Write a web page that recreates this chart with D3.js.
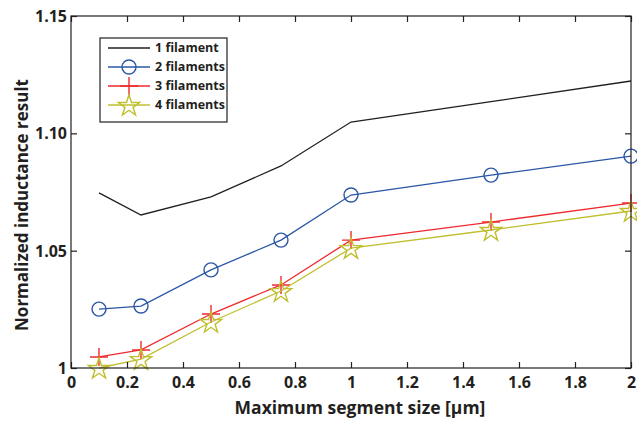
<!DOCTYPE html>
<html lang="en">
<head>
<meta charset="utf-8">
<title>Normalized inductance</title>
<script src="https://d3js.org/d3.v7.min.js"></script>
<style>
  body { margin: 0; background: #fff; }
  text { font-family: "Open Sans", sans-serif; font-weight: 700; fill: #231f20; }
</style>
</head>
<body>
<script>
// data
var segSize = [0.1, 0.25, 0.5, 0.75, 1, 1.5, 2];
var fil1 = [1.0746, 1.0652, 1.0729, 1.0861, 1.1048, 1.1135, 1.1223];
var fil2 = [1.0251, 1.0264, 1.0418, 1.0545, 1.0737, 1.0822, 1.0903];
var fil3 = [1.0047, 1.0077, 1.0230, 1.0354, 1.0545, 1.0622, 1.0703];
var fil4 = [1.0000, 1.0038, 1.0196, 1.0328, 1.0511, 1.0588, 1.0669];
var seriesNames = ["1 filament", "2 filaments", "3 filaments", "4 filaments"];
var xTicks = [0, 0.2, 0.4, 0.6, 0.8, 1, 1.2, 1.4, 1.6, 1.8, 2];
var yTicks = [1, 1.05, 1.10, 1.15];
var yTickLabels = ["1", "1.05", "1.10", "1.15"];

var w = 637, h = 423;
var mLeft = 71, mRight = 631, mTop = 16, mBottom = 368;

var series = [
  {name: seriesNames[0], vals: fil1, color: "#231f20", marker: "none"},
  {name: seriesNames[1], vals: fil2, color: "#2b57a6", marker: "circle"},
  {name: seriesNames[2], vals: fil3, color: "#ee2a2f", marker: "plus"},
  {name: seriesNames[3], vals: fil4, color: "#bfbf2e", marker: "star"}
];

var x = d3.scaleLinear().domain([0, 2]).range([mLeft, mRight]);
var y = d3.scaleLinear().domain([1, 1.15]).range([mBottom, mTop]);

var svg = d3.select("body").append("svg").attr("width", w).attr("height", h);

// data lines
var line = d3.line().x(function(d) { return x(d[0]); }).y(function(d) { return y(d[1]); });

function drawMarker(g, type, cx, cy, color) {
  if (type === "circle") {
    g.append("circle").attr("cx", cx).attr("cy", cy).attr("r", 7)
      .attr("fill", "none").attr("stroke", color).attr("stroke-width", 1.4);
  } else if (type === "plus") {
    g.append("path").attr("d", "M" + (cx - 9) + "," + cy + "H" + (cx + 9) + "M" + cx + "," + (cy - 9) + "V" + (cy + 9))
      .attr("stroke", color).attr("stroke-width", 1.4);
  } else if (type === "star") {
    g.append("path")
      .attr("d", d3.symbol().type(d3.symbolStar).size(140)())
      .attr("transform", "translate(" + cx + "," + (cy + 1) + ")")
      .attr("fill", "none").attr("stroke", color).attr("stroke-width", 1.4);
  }
}

series.forEach(function(s) {
  var pts = segSize.map(function(v, i) { return [v, s.vals[i]]; });
  var g = svg.append("g");
  g.append("path").datum(pts).attr("d", line)
    .attr("fill", "none").attr("stroke", s.color).attr("stroke-width", 1.3);
  pts.forEach(function(p) { drawMarker(g, s.marker, x(p[0]), y(p[1]), s.color); });
});

// axes box and inward ticks
var axisColor = "#231f20";
svg.append("rect").attr("x", mLeft).attr("y", mTop).attr("width", mRight - mLeft).attr("height", mBottom - mTop)
  .attr("fill", "none").attr("stroke", axisColor).attr("stroke-width", 1.2);

var xAxis = d3.axisBottom(x).tickValues(xTicks).tickSizeInner(-6).tickSizeOuter(0)
  .tickFormat(function(d) { return d3.format("~g")(d); }).tickPadding(9);
var gx = svg.append("g").attr("transform", "translate(0," + mBottom + ")").call(xAxis);
var xAxisTop = d3.axisTop(x).tickValues(xTicks).tickSizeInner(-6).tickSizeOuter(0).tickFormat("");
var gxt = svg.append("g").attr("transform", "translate(0," + mTop + ")").call(xAxisTop);

var yAxis = d3.axisLeft(y).tickValues(yTicks).tickSizeInner(-6).tickSizeOuter(0)
  .tickFormat(function(d, i) { return yTickLabels[i]; }).tickPadding(4);
var gy = svg.append("g").attr("transform", "translate(" + mLeft + ",0)").call(yAxis);
var yAxisRight = d3.axisRight(y).tickValues(yTicks).tickSizeInner(-6).tickSizeOuter(0).tickFormat("");
var gyr = svg.append("g").attr("transform", "translate(" + mRight + ",0)").call(yAxisRight);

[gx, gxt, gy, gyr].forEach(function(g) {
  g.select(".domain").remove();
  g.selectAll("line").attr("stroke", axisColor).attr("stroke-width", 1.2);
  g.selectAll("text").style("font-size", "16px").style("font-family", "'Open Sans', sans-serif")
    .style("font-weight", 700).attr("fill", axisColor);
});
gy.selectAll("text").attr("dy", "0.35em");

// axis labels
svg.append("text").attr("x", 360).attr("y", 414).attr("text-anchor", "middle")
  .style("font-size", "17.5px").text("Maximum segment size [\u00b5m]");
svg.append("text").attr("transform", "translate(28,205) rotate(-90)")
  .attr("text-anchor", "middle").style("font-size", "17px").text("Normalized inductance result");

// legend
var lg = svg.append("g");
lg.append("rect").attr("x", 100).attr("y", 38).attr("width", 127).attr("height", 84)
  .attr("fill", "#fff").attr("stroke", axisColor).attr("stroke-width", 1.2);
series.forEach(function(s, i) {
  var ly = 48 + i * 19;
  lg.append("line").attr("x1", 108).attr("x2", 150).attr("y1", ly).attr("y2", ly)
    .attr("stroke", s.color).attr("stroke-width", 1.3);
  drawMarker(lg, s.marker, 129, ly, s.color);
  lg.append("text").attr("x", 155).attr("y", ly).attr("dy", "0.35em")
    .style("font-size", "12.5px").text(s.name);
});
</script>
</body>
</html>
